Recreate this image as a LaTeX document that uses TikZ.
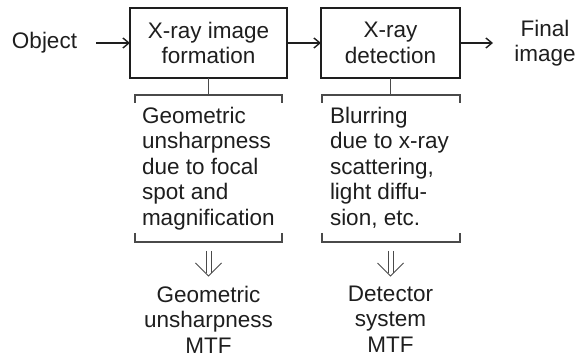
\documentclass[tikz,border=0pt]{standalone}
\usepackage{fontspec}
\setmainfont{Liberation Sans}
\usetikzlibrary{arrows.meta}
\definecolor{ink}{HTML}{1E1E1E}
\definecolor{rule}{HTML}{4A4A4A}
\tikzset{
  lbl/.style={inner sep=0pt, outer sep=0pt, text=ink,
    font=\fontsize{22.5}{25.5}\selectfont},
  stage/.style={draw=ink, line width=2.6pt, minimum width=157pt,
    minimum height=70pt, inner sep=0pt, outer sep=0pt, text=ink,
    align=center, font=\fontsize{22.5}{25.5}\selectfont},
  flow/.style={draw=ink, line width=1.4pt,
    -{Straight Barb[length=6pt,width=10pt,line width=1.4pt]}},
  brace/.style={draw=rule, line width=1.1pt},
  dbl/.style={draw=rule, line width=0.9pt},
  pics/dblarrow/.style={code={
    \draw[dbl] (-2.5,0) -- (-2.5,22.5);
    \draw[dbl] (2.5,0) -- (2.5,22.5);
    \draw[dbl] (-13,12) -- (0,25) -- (13,12);
  }}
}
\begin{document}
\begin{tikzpicture}[x=1pt,y=-1pt]
\useasboundingbox (0,0) rectangle (579,363);

% stages of the imaging chain
\node[lbl] (obj) at (44.5,43) {Object};
\node[stage] (form) at (208.5,43) {X-ray image\\formation};
\node[stage, minimum width=139pt] (det) at (390.5,43) {X-ray\\detection};
\node[lbl, align=center] (fin) at (545,43) {Final\\image};

\draw[flow] (obj.east) ++(19,0) -- (form.west);
\draw[flow] (form.east) -- (det.west);
\draw[flow] (det.east) -- ++(33,0);

% blurring mechanisms
\node[lbl, align=left, anchor=north west] (geo) at (142,107)
  {Geometric\\unsharpness\\due to focal\\spot and\\magnification};
\node[lbl, align=left, anchor=north west] (blur) at (330,107)
  {Blurring\\due to x-ray\\scattering,\\light diffu-\\sion, etc.};

% brackets round each mechanism
\draw[brace] (form.south) -- (form.south |- 0,95);
\draw[brace] (135,103) -- (135,95) -- (282,95) -- (282,103);
\draw[brace] (135,233) -- (135,242) -- (282,242) -- (282,233);
\draw[brace] (det.south) -- (det.south |- 0,95);
\draw[brace] (322,103) -- (322,95) -- (460,95) -- (460,103);
\draw[brace] (322,233) -- (322,242) -- (460,242) -- (460,233);

% resulting transfer functions
\pic at (208.5,251) {dblarrow};
\pic at (390.5,251) {dblarrow};
\node[lbl, align=center, anchor=north] (gmtf) at (208.5,286)
  {Geometric\\unsharpness\\MTF};
\node[lbl, align=center, anchor=north] (dmtf) at (390.5,286)
  {Detector\\system\\MTF};
\end{tikzpicture}
\end{document}
